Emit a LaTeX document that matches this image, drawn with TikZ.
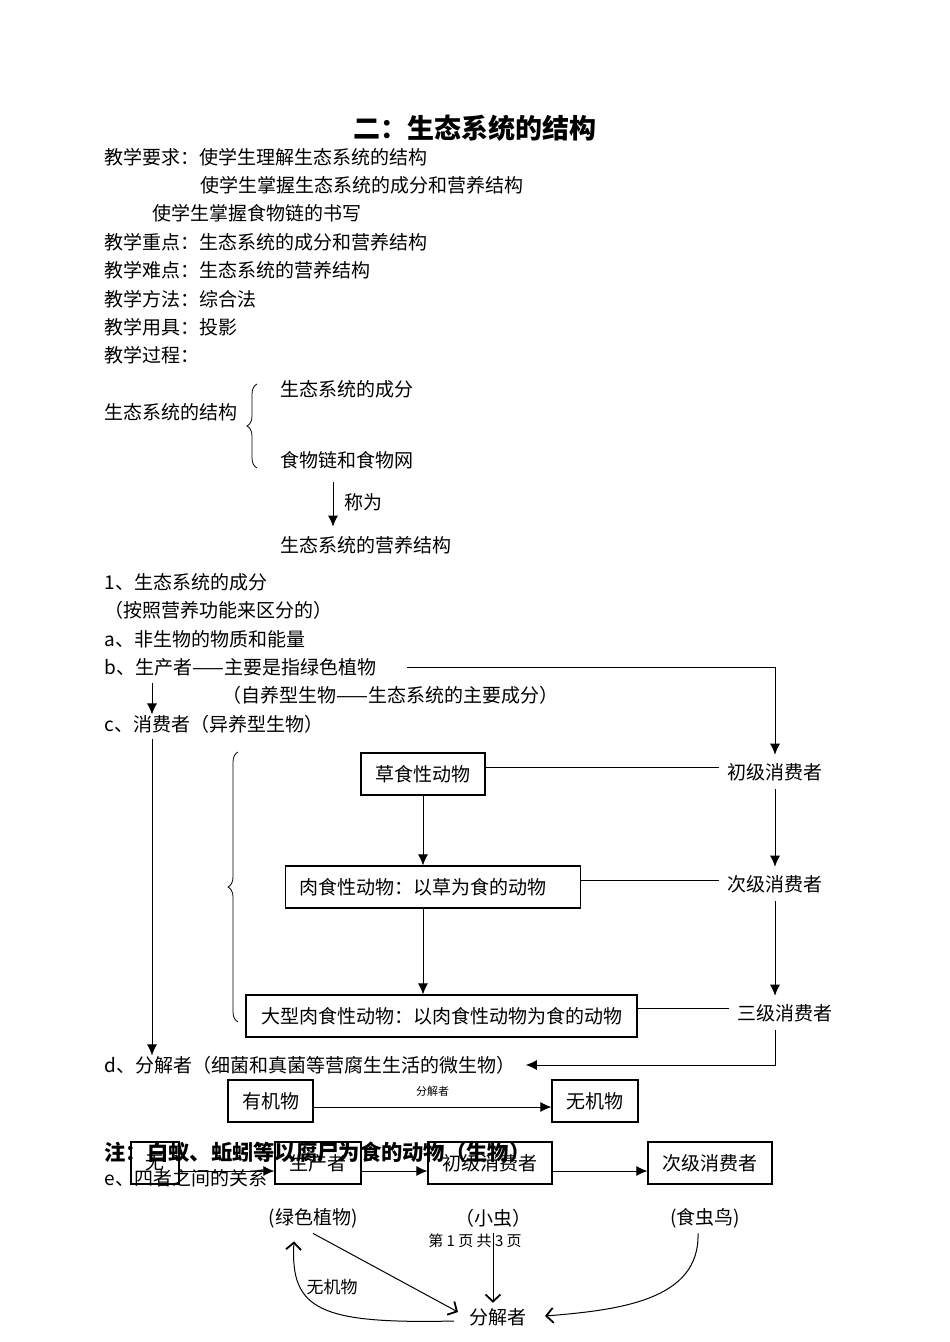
\documentclass[tikz,border=0pt]{standalone}
\usepackage{fontspec}
\setmainfont{Noto Sans CJK SC}
\usetikzlibrary{arrows.meta,decorations.pathreplacing}

\newcommand{\fs}[1]{\fontsize{#1}{#1}\selectfont}

\begin{document}
\begin{tikzpicture}[x=1pt,y=-1pt,line width=1pt,>={Latex[length=11pt,width=10pt]},
    txt/.style={anchor=west,inner sep=0pt,font=\fs{19}},
    cons/.style={inner sep=8pt,font=\fs{19}},
    box/.style={draw,line width=1.2pt,minimum height=42pt,inner sep=0pt,font=\fs{19}},
    plain/.style={inner sep=5pt,font=\fs{19}},
    barb/.style={-{Straight Barb[length=7pt,width=15pt,line width=1.8pt]}},
    brc/.style={decorate,decoration={brace,amplitude=10pt},line width=0.8pt}]
    \fill [white] (0,0) rectangle (950,1342);
    \useasboundingbox (0,0) rectangle (950,1342);

    \node [font=\bfseries\fs{27}] (title) at (475,128) {二：生态系统的结构};
    \node [txt] (req1) at (104,157) {教学要求：使学生理解生态系统的结构};
    \node [txt] (req2) at (200,185) {使学生掌握生态系统的成分和营养结构};
    \node [txt] (req3) at (152,213) {使学生掌握食物链的书写};
    \node [txt] (focus) at (104,242) {教学重点：生态系统的成分和营养结构};
    \node [txt] (hard) at (104,270) {教学难点：生态系统的营养结构};
    \node [txt] (method) at (104,299) {教学方法：综合法};
    \node [txt] (tools) at (104,327) {教学用具：投影};
    \node [txt] (proc) at (104,355) {教学过程：};

    \node [txt] (struct) at (104,412) {生态系统的结构};
    \node [txt] (parts) at (280,389) {生态系统的成分};
    \node [txt] (web) at (280,460) {食物链和食物网};
    \node [txt] (troph) at (280,545) {生态系统的营养结构};
    \draw [brc] (257,468) -- (257,384);
    \draw [->,shorten <=13pt,shorten >=9pt] ([xshift=53]web.south west)
          -- ([xshift=53]troph.north west) node [midway,right=8pt,font=\fs{19}] {称为};

    \node [txt] (sec1) at (104,582) {1、生态系统的成分};
    \node [txt] (bypart) at (104,610) {（按照营养功能来区分的）};
    \node [txt] (abio) at (104,639) {a、非生物的物质和能量};
    \node [txt] (prod) at (104,667) {b、生产者——主要是指绿色植物};
    \node [txt] (auto) at (222,695) {（自养型生物——生态系统的主要成分）};
    \node [txt] (consm) at (104,724) {c、消费者（异养型生物）};
    \node [txt] (decomp) at (104,1065) {d、分解者（细菌和真菌等营腐生生活的微生物）};

    \node [cons] (c1) at (775,772) {初级消费者};
    \node [cons] (c2) at (775,884) {次级消费者};
    \node [cons] (c3) at (785,1013) {三级消费者};

    \node [box,minimum width=124pt] (herb) at (423,774) {草食性动物};
    \node [box,anchor=west,inner xsep=14pt,text width=267pt,align=left] (carn) at (285,887)
          {肉食性动物：以草为食的动物};
    \node [box,minimum width=391pt] (topc) at (441.5,1016) {大型肉食性动物：以肉食性动物为食的动物};
    \draw [brc] (238,1022) -- (238,752);

    \draw [->] ([xshift=30]prod.east) -| (c1.north);
    \draw [->,shorten <=7pt] ([xshift=48]prod.south west) -- ([xshift=48]consm.north west);
    \draw [->,shorten <=5pt] ([xshift=48]consm.south west) -- ([xshift=48]decomp.north west);
    \draw ([yshift=7]herb.east) -- ([yshift=7]herb.east -| c1.west);
    \draw ([yshift=7]carn.east) -- ([yshift=7]carn.east -| c2.west);
    \draw ([yshift=8]topc.east) -- ([yshift=8]topc.east -| c3.west);
    \draw [->] (herb.south) -- (herb.south |- carn.north);
    \draw [->] (herb.south |- carn.south) -- (herb.south |- topc.north);
    \draw [->] (c1) -- (c2);
    \draw [->] (c2) -- (c2 |- c3.north);
    \draw [->] (c2 |- c3.south) |- ([xshift=10]decomp.east);

    \node [box,minimum width=85pt] (org) at (270.5,1101) {有机物};
    \node [box,minimum width=86pt] (inorg) at (595,1101) {无机物};
    \draw [->] ([yshift=-6]org.east) -- node [above=7pt,font=\fs{11}] {分解者}
          ([yshift=-6]org.east -| inorg.west);

    \node [txt,font=\bfseries\fs{21.3}] (note) at (104,1152) {注：白蚁、蚯蚓等以腐尸为食的动物（生物）};
    \node [txt] (rel) at (104,1178) {e、四者之间的关系};
    \node [box,minimum width=48pt] (n0) at (155,1163) {无};
    \node [box,minimum width=86pt] (n1) at (318,1163) {生产者};
    \node [box,minimum width=124pt] (n2) at (490,1163) {初级消费者};
    \node [box,minimum width=124pt] (n3) at (710,1163) {次级消费者};
    \draw [->] ([yshift=-8]n0.east) -- ([yshift=-8]n1.west);
    \draw [->] ([yshift=-8]n1.east) -- ([yshift=-8]n2.west);
    \draw [->] ([yshift=-8]n2.east) -- ([yshift=-8]n3.west);

    \node [plain] (green) at (313,1218) {(绿色植物)};
    \node [plain] (bug) at (493,1218) {（小虫）};
    \node [plain] (bird) at (705,1218) {(食虫鸟)};
    \node [font=\fs{15}] (page) at (475,1241) {第 1 页 共 3 页};
    \node [plain] (dec) at (498,1317) {分解者};
    \node [font=\fs{17}] (inlab) at (332,1287) {无机物};
    \draw [barb] (bug) -- (bug |- dec.north);
    \draw [barb] (green.south) -- ([xshift=-6,yshift=5]dec.west);
    \draw [barb] ([xshift=-10,yshift=-4]dec.west) .. controls (320,1324) and (290,1310)
          .. ([xshift=-19,yshift=-8]green.south);
    \draw [barb] ([xshift=-7]bird.south) .. controls (700,1300) and (620,1310)
          .. ([xshift=13,yshift=1]dec.east);
\end{tikzpicture}
\end{document}
